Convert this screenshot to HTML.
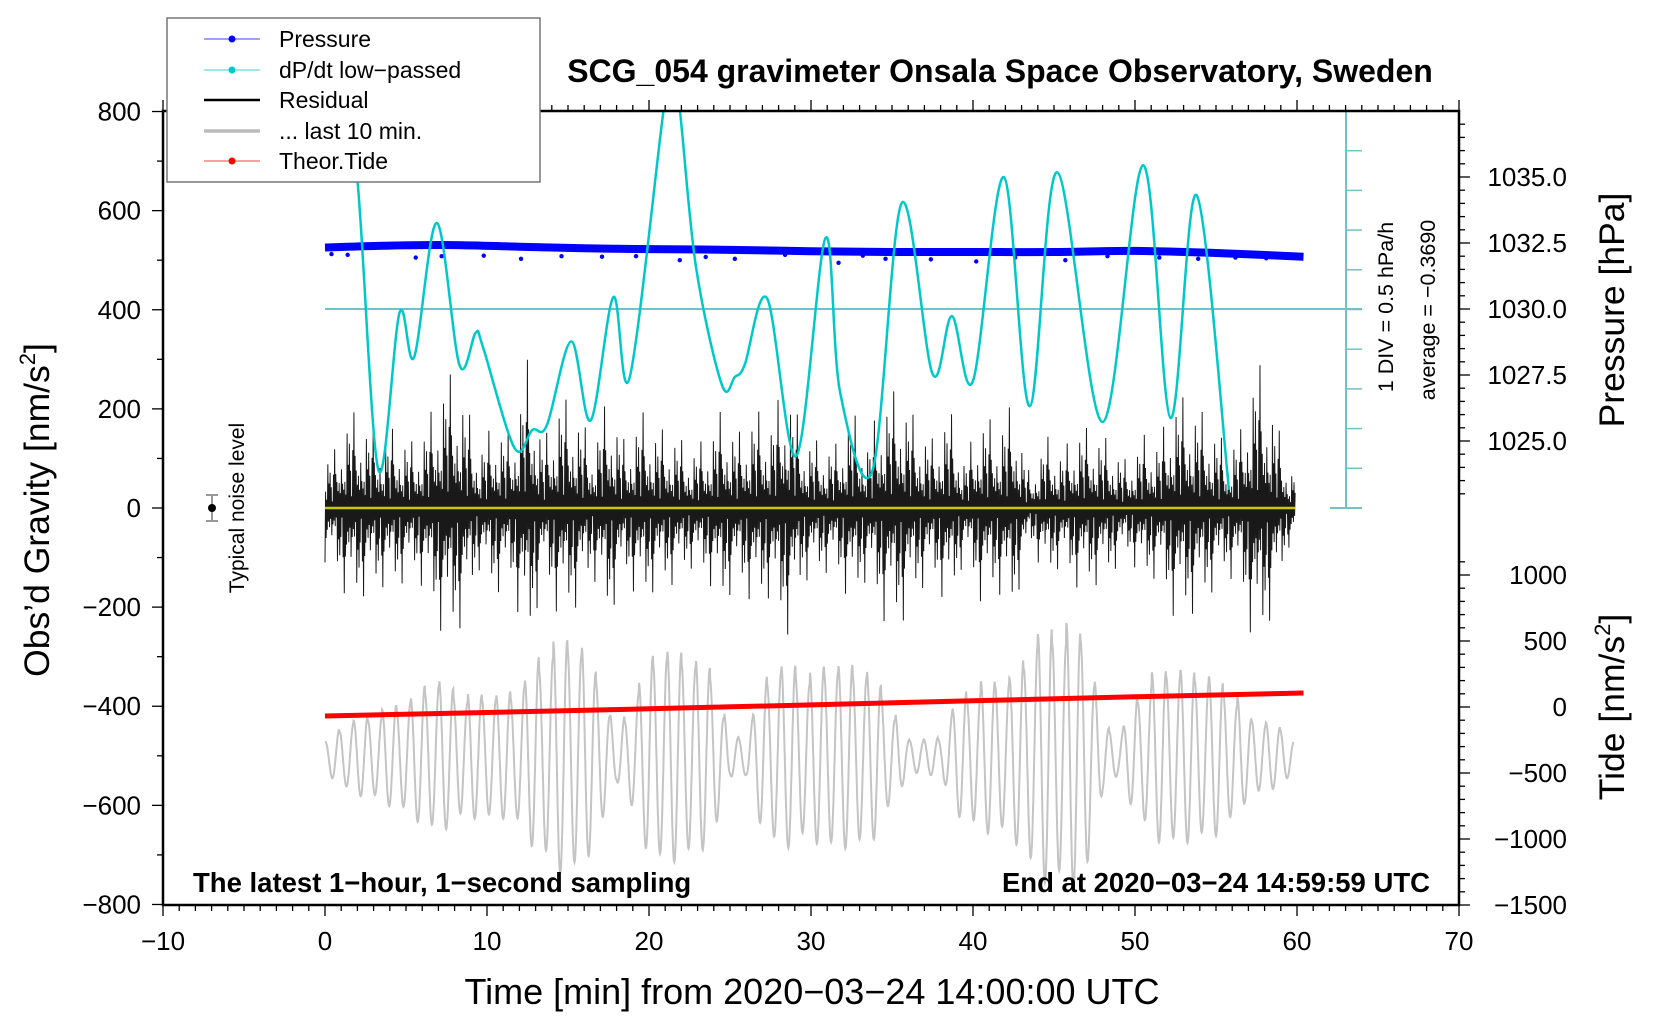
<!DOCTYPE html>
<html><head><meta charset="utf-8"><style>
body{margin:0;background:#fff}
svg{display:block;font-family:"Liberation Sans",sans-serif}
</style></head><body>
<svg id="chart" width="1660" height="1020" viewBox="0 0 1660 1020" xmlns="http://www.w3.org/2000/svg">
<defs><clipPath id="plotclip"><rect x="163" y="111" width="1296" height="794"/></clipPath></defs>
<g id="marks" clip-path="url(#plotclip)"></g>
<g id="axes"></g>
<text x="1000" y="82" text-anchor="middle" font-size="32" font-weight="bold">SCG_054 gravimeter Onsala Space Observatory, Sweden</text>
<text x="193" y="892" font-size="27.5" font-weight="bold">The latest 1−hour, 1−second sampling</text>
<text x="1430" y="892" text-anchor="end" font-size="27.5" font-weight="bold">End at 2020−03−24 14:59:59 UTC</text>
<text x="812" y="1004" text-anchor="middle" font-size="36">Time [min] from 2020−03−24 14:00:00 UTC</text>
<text transform="translate(49,510) rotate(-90)" text-anchor="middle" font-size="35.5">Obs’d Gravity [nm/s<tspan font-size="22" dy="-14">2</tspan><tspan dy="14">]</tspan></text>
<text transform="translate(1624,310) rotate(-90)" text-anchor="middle" font-size="35.5">Pressure [hPa]</text>
<text transform="translate(1624,707) rotate(-90)" text-anchor="middle" font-size="35.5">Tide [nm/s<tspan font-size="22" dy="-14">2</tspan><tspan dy="14">]</tspan></text>
<text transform="translate(244,508) rotate(-90)" text-anchor="middle" font-size="21">Typical noise level</text>
<g>
<line x1="212" y1="495" x2="212" y2="521" stroke="#999" stroke-width="2"/>
<line x1="206" y1="495" x2="218" y2="495" stroke="#999" stroke-width="2"/>
<line x1="206" y1="521" x2="218" y2="521" stroke="#999" stroke-width="2"/>
<circle cx="212" cy="508" r="4" fill="#000"/></g>
<text transform="translate(1393,307) rotate(-90)" text-anchor="middle" font-size="21.5">1 DIV = 0.5 hPa/h</text>
<text transform="translate(1435,310) rotate(-90)" text-anchor="middle" font-size="21.5">average = −0.3690</text>
<g>
<rect x="167" y="18" width="373" height="164" fill="#fff" stroke="#777" stroke-width="1.5"/>
<g><line x1="204" y1="39" x2="260" y2="39" stroke="#4040ff" stroke-width="1"/><circle cx="232" cy="39" r="3.5" fill="#0000ff"/><text x="279" y="47" font-size="23">Pressure</text></g>
<g><line x1="204" y1="70" x2="260" y2="70" stroke="#40d0d0" stroke-width="1"/><circle cx="232" cy="70" r="3.5" fill="#00c8c8"/><text x="279" y="78" font-size="23">dP/dt low−passed</text></g>
<g><line x1="204" y1="100" x2="260" y2="100" stroke="#000" stroke-width="2.5"/><text x="279" y="108" font-size="23">Residual</text></g>
<g><line x1="204" y1="131" x2="260" y2="131" stroke="#bbb" stroke-width="3.5"/><text x="279" y="139" font-size="23">... last 10 min.</text></g>
<g><line x1="204" y1="161" x2="260" y2="161" stroke="#ff4040" stroke-width="1"/><circle cx="232" cy="161" r="3.5" fill="#ff0000"/><text x="279" y="169" font-size="23">Theor.Tide</text></g>
</g>
</svg>
<script>
const NS='http://www.w3.org/2000/svg';
// ---- data ----
const dpTimes=[0,1,2.0,3.3,4.6,5.5,6.9,8.3,9.3,9.75,11.7,12.8,13.7,15.2,16.4,17.8,18.8,20.9,21.4,21.9,22.9,24.5,25.3,25.9,27.3,29.1,30.9,31.8,33.8,35.6,37.5,38.7,40.0,41.9,43.5,45.2,48.0,50.5,52.2,53.8,55.8];
const dpValues=[3.41,2.65,1.63,-2.04,-0.05,-0.61,1.09,-0.71,-0.30,-0.48,-1.76,-1.53,-1.47,-0.41,-1.41,0.15,-0.87,2.52,3.03,2.52,0.53,-0.96,-0.86,-0.71,0.13,-1.86,0.90,-1.06,-2.04,1.34,-0.82,-0.09,-0.91,1.67,-1.23,1.73,-1.43,1.82,-1.38,1.44,-2.29];
const presTimes=[0,4,8,12,16,20,25,30,35,40,45,50,55,60.4];
const presValues=[1032.33,1032.40,1032.42,1032.36,1032.30,1032.27,1032.24,1032.19,1032.16,1032.16,1032.16,1032.2,1032.12,1031.98];
const presOutT=[0.4,1.4,5.6,7.2,9.8,12.1,14.6,17.1,19.2,21.9,23.5,25.3,28.4,31.7,33.2,34.6,37.4,40.2,42.6,45.7,48.3,51.5,53.9,56.2,58.1];
const presOutV=[1032.08,1032.05,1031.95,1032.0,1032.02,1031.9,1032.0,1031.98,1032.0,1031.85,1031.97,1031.9,1032.05,1031.75,1032.02,1031.9,1031.88,1031.8,1031.95,1031.85,1032.0,1031.95,1031.9,1031.95,1031.92];
const resEnvelope=[110,200,175,160,160,130,190,280,235,125,175,150,300,134,230,200,134,228,134,198,160,155,120,140,200,150,200,180,262,150,134,127,200,140,228,240,175,140,208,100,192,168,215,67,148,114,165,158,134,94,148,140,230,215,182,134,155,310,208,80];
const grayEnvelope=[30,60,80,90,100,110,140,160,140,125,125,125,140,200,235,235,220,150,50,120,200,215,210,200,180,40,40,150,190,190,170,185,185,185,170,100,35,35,40,120,150,155,150,190,255,270,270,240,70,40,120,170,175,175,170,165,140,80,70,60,30];
const tideTimes=[0,10,20,30,40,50,60.4];
const tideValues=[-68,-42,-14,16,47,77,106];
const xTicks=[-10,0,10,20,30,40,50,60,70];
const yTicks=[-800,-600,-400,-200,0,200,400,600,800];
const presTicks=[1025.0,1027.5,1030.0,1032.5,1035.0];
const tideTicks=[-1500,-1000,-500,0,500,1000];
// ---- scales ----
const X=t=>163+(t+10)*16.2;
const Y=g=>508-g*0.4956;
const YP=p=>309-(p-1030)*26.4;
const YT=v=>707-v*0.132;
const YD=v=>309-v*79;
const marks=document.getElementById('marks'), axes=document.getElementById('axes');
function el(tag,attrs,parent){const e=document.createElementNS(NS,tag);for(const k in attrs)e.setAttribute(k,attrs[k]);parent.appendChild(e);return e;}
function interp(ts,vs,t){if(t<=ts[0])return vs[0];for(let i=1;i<ts.length;i++){if(t<=ts[i]){const f=(t-ts[i-1])/(ts[i]-ts[i-1]);return vs[i-1]+f*(vs[i]-vs[i-1]);}}return vs[vs.length-1];}
function smoothPath(pts){let d='M'+pts[0][0]+','+pts[0][1];for(let i=0;i<pts.length-1;i++){const p0=pts[Math.max(0,i-1)],p1=pts[i],p2=pts[i+1],p3=pts[Math.min(pts.length-1,i+2)];const c1=[p1[0]+(p2[0]-p0[0])/6,p1[1]+(p2[1]-p0[1])/6],c2=[p2[0]-(p3[0]-p1[0])/6,p2[1]-(p3[1]-p1[1])/6];d+=' C'+c1[0].toFixed(1)+','+c1[1].toFixed(1)+' '+c2[0].toFixed(1)+','+c2[1].toFixed(1)+' '+p2[0].toFixed(1)+','+p2[1].toFixed(1);}return d;}
// gray last-10-min
{let d='';const mult=[1,0.9,0.97,0.85,1,0.93];for(let t=0;t<=59.8;t+=0.02){const e=interp(grayEnvelope.map((_,i)=>i),grayEnvelope,t);const v=-502+e*Math.cos(2*Math.PI*t/0.88)*mult[Math.floor(t/0.88)%6];d+=(d?' L':'M')+X(t).toFixed(1)+','+Y(v).toFixed(1);}
const p=el('path',{d:d,fill:'none',stroke:'#c4c4c4','stroke-width':2},marks);

}
// residual
{let d='';const m=[1,0.3,0.55,0.15,0.4,0.8,0.25,0.45,0.35,0.65,0.2,0.38,0.5,0.12,0.3,0.6,0.22];let k=0;const idx=resEnvelope.map((_,i)=>i+0.5);for(let t=0;t<=59.9;t+=0.035){const e=interp(idx,resEnvelope,t);const v=(k%2?1:-1)*e*m[k%17];d+=(d?' L':'M')+X(t).toFixed(2)+','+Y(v).toFixed(1);k++;}
const p=el('path',{d:d,fill:'none',stroke:'#000','stroke-width':1,'stroke-opacity':0.9},marks);

}
// yellow
{const l=el('line',{x1:X(0),y1:Y(0),x2:X(59.9),y2:Y(0),stroke:'#c8c800','stroke-width':2.5},marks);

}
// pressure band
{const pts=presTimes.map((t,i)=>[X(t),YP(presValues[i])]);
const p=el('path',{d:smoothPath(pts),fill:'none',stroke:'#0000ff','stroke-width':8},marks);


presOutT.forEach((t,i)=>{const c=el('circle',{cx:X(t),cy:YP(presOutV[i]),r:2.2,fill:'#0000ff'},marks);

});}
// tide
{const pts=tideTimes.map((t,i)=>X(t).toFixed(1)+','+YT(tideValues[i]).toFixed(1)).join(' ');
const p=el('polyline',{points:pts,fill:'none',stroke:'#ff0000','stroke-width':5},marks);

}
// cyan scale
{const g=el('g',{},marks);
el('line',{x1:X(0),y1:309,x2:1362,y2:309,stroke:'#6cc4c4','stroke-width':2},g);
el('line',{x1:1346,y1:111,x2:1346,y2:508,stroke:'#6cc4c4','stroke-width':2},g);
el('line',{x1:1330,y1:111,x2:1362,y2:111,stroke:'#6cc4c4','stroke-width':2},g);
el('line',{x1:1330,y1:508,x2:1362,y2:508,stroke:'#6cc4c4','stroke-width':2},g);
for(let i=1;i<10;i++){el('line',{x1:1346,y1:111+i*39.7,x2:1362,y2:111+i*39.7,stroke:'#6cc4c4','stroke-width':1.5},g);}}
// dP/dt
{const pts=dpTimes.map((t,i)=>[X(t),YD(dpValues[i])]);
const p=el('path',{d:smoothPath(pts),fill:'none',stroke:'#00c8c8','stroke-width':2.5},marks);

}
// ---- axes ----
el('rect',{x:163,y:111,width:1296,height:794,fill:'none',stroke:'#000','stroke-width':2.5},axes);
for(let t=-10;t<=70;t++){const x=X(t),maj=t%10===0;el('line',{x1:x,y1:905,x2:x,y2:905+(maj?11:6),stroke:'#000','stroke-width':1.3},axes);el('line',{x1:x,y1:111,x2:x,y2:111-(maj?11:6),stroke:'#000','stroke-width':1.3},axes);}
xTicks.forEach(t=>{const tx=el('text',{x:X(t),y:950,'text-anchor':'middle','font-size':26},axes);tx.textContent=String(t).replace('-','−');

});
for(let g=-800;g<=800;g+=100){el('line',{x1:163,y1:Y(g),x2:163-(g%200===0?11:6),y2:Y(g),stroke:'#000','stroke-width':1.3},axes);}
yTicks.forEach(g=>{const tx=el('text',{x:141,y:Y(g)+9,'text-anchor':'end','font-size':26},axes);tx.textContent=String(g).replace('-','−');

});
for(let p=1023;p<=1037.2;p+=0.5){const y=YP(p);if(y<111||y>530)continue;const maj=Math.abs((p*2)%5)<0.01;el('line',{x1:1459,y1:y,x2:1459+(maj?11:6),y2:y,stroke:'#000','stroke-width':1.3},axes);}
presTicks.forEach(p=>{const tx=el('text',{x:1567,y:YP(p)+9,'text-anchor':'end','font-size':26},axes);tx.textContent=p.toFixed(1);

});
for(let v=-1500;v<=1100;v+=100){const y=YT(v);if(y<535||y>906)continue;el('line',{x1:1459,y1:y,x2:1459+(v%500===0?11:6),y2:y,stroke:'#000','stroke-width':1.3},axes);}
tideTicks.forEach(v=>{const tx=el('text',{x:1567,y:YT(v)+9,'text-anchor':'end','font-size':26},axes);tx.textContent=String(v).replace('-','−');

});
</script>
</body></html>
